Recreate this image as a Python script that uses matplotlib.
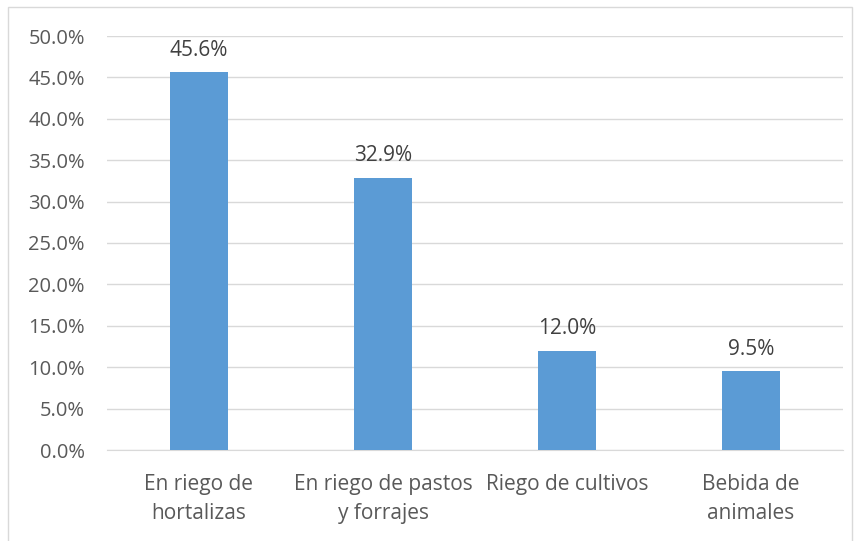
import matplotlib.pyplot as plt
from matplotlib.patches import Rectangle
from matplotlib.ticker import FuncFormatter

# data
categories = ["En riego de\nhortalizas", "En riego de pastos\ny forrajes",
              "Riego de cultivos", "Bebida de\nanimales"]
values = [45.6, 32.9, 12.0, 9.5]
yticks = [0, 5, 10, 15, 20, 25, 30, 35, 40, 45, 50]

plt.rcParams['font.family'] = ['Open Sans', 'DejaVu Sans']

W, H = 859, 541
fig = plt.figure(figsize=(W / 100, H / 100), dpi=100)
ax = fig.add_axes([107 / W, 1 - 450 / H, (843 - 107) / W, (450 - 36) / H])

x = range(len(values))
bars = ax.bar(x, values, width=0.315, color="#5B9BD5", zorder=3)
for i, v in enumerate(values):
    ax.text(i, v + 1.4, f"{v:.1f}%", ha="center", va="bottom",
            fontsize=15, color="#404040")

ax.set_xlim(-0.5, len(values) - 0.5)
ax.set_ylim(0, 50)
ax.set_yticks(yticks)
ax.yaxis.set_major_formatter(FuncFormatter(lambda v, p: f"{v:.1f}%"))
ax.set_xticks(list(x))
ax.set_xticklabels(categories, fontsize=15, color="#595959", linespacing=1.5)
ax.tick_params(axis="y", labelsize=14.5, labelcolor="#595959", length=0, pad=16)
ax.tick_params(axis="x", length=0, pad=17)
ax.grid(axis="y", color="#D9D9D9", linewidth=1, zorder=0)
for s in ["top", "right", "left"]:
    ax.spines[s].set_visible(False)
ax.spines["bottom"].set_color("#D9D9D9")

# chart border
fig.patches.append(Rectangle((8 / W, -0.01), (852 - 8) / W, 1 - 7 / H + 0.01,
                             transform=fig.transFigure, fill=False,
                             edgecolor="#D9D9D9", linewidth=1))

fig.savefig("out.png", dpi=100)
